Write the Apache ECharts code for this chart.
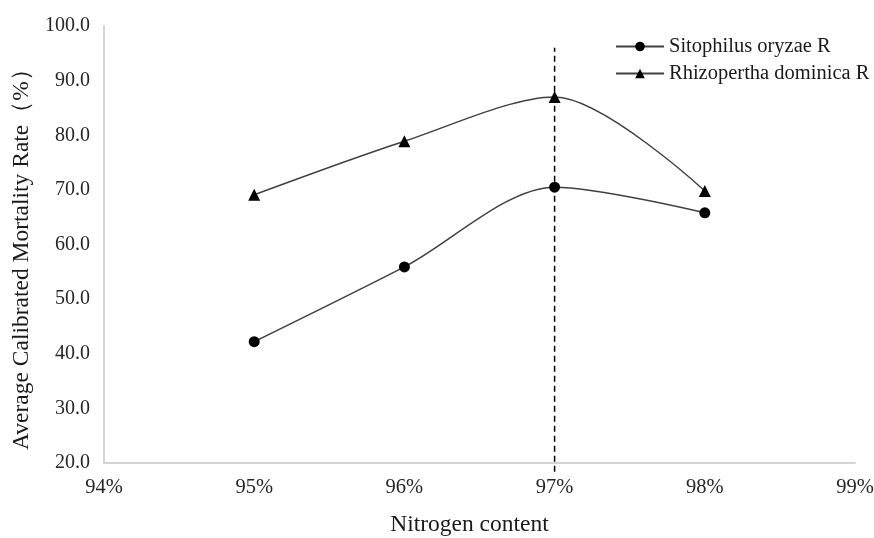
<!DOCTYPE html>
<html>
<head>
<meta charset="utf-8">
<script src="https://cdn.jsdelivr.net/npm/echarts@6/dist/echarts.min.js"></script>
<style>html,body{margin:0;padding:0;background:#fff}#c{width:874px;height:538px}</style>
</head>
<body>
<div id="c"></div>
<script>
var nitrogen = [95, 96, 97, 98];
var sitophilus = [42.2, 55.9, 70.5, 65.8];
var rhizopertha = [69.1, 78.9, 87.0, 69.8];
var dashX = 97;
var dashYRange = [18.4, 96.0];
var seriesNames = ['Sitophilus oryzae R', 'Rhizopertha dominica R'];

function pairs(xs, ys){ return xs.map(function(x,i){ return [x, ys[i]]; }); }

var font = 'Liberation Serif';
var chart = echarts.init(document.getElementById('c'), null, {renderer:'canvas'});
chart.setOption({
  animation: false,
  backgroundColor: '#fff',
  grid: {left: 104, right: 19, top: 26, bottom: 75, containLabel: false, outerBoundsMode: 'none'},
  legend: {
    orient: 'vertical', left: 610, top: 31,
    data: seriesNames,
    itemWidth: 48, itemHeight: 12, itemGap: 6,
    textStyle: {fontFamily: font, fontSize: 20.5, color: '#1a1a1a'}
  },
  xAxis: {
    type: 'value', min: 94, max: 99, interval: 1,
    name: 'Nitrogen content', nameLocation: 'middle', nameGap: 50,
    nameTextStyle: {fontFamily: font, fontSize: 23.5, color: '#1a1a1a', padding: [0, 20, 0, 0]},
    axisLine: {show: true, lineStyle: {color: '#d4d4d4', width: 2}},
    axisTick: {show: false},
    splitLine: {show: false},
    axisLabel: {fontFamily: font, fontSize: 20.5, color: '#262626', margin: 14,
      formatter: function(v){ return v + '%'; }}
  },
  yAxis: {
    type: 'value', min: 20, max: 100, interval: 10,
    name: 'Average Calibrated Mortality Rate（%）', nameLocation: 'middle', nameGap: 70,
    nameTextStyle: {fontFamily: font, fontSize: 23.5, color: '#1a1a1a', padding: [0, 18, 0, 0]},
    axisLine: {show: true, lineStyle: {color: '#d4d4d4', width: 2}},
    axisTick: {show: false},
    splitLine: {show: false},
    axisLabel: {fontFamily: font, fontSize: 20, color: '#262626', margin: 14,
      formatter: function(v){ return v.toFixed(1); }}
  },
  series: [
    {
      name: seriesNames[0], type: 'line', smooth: 0.3,
      data: pairs(nitrogen, sitophilus),
      symbol: 'circle', symbolSize: 11,
      itemStyle: {color: '#000'},
      lineStyle: {color: '#404040', width: 1.5}
    },
    {
      name: seriesNames[1], type: 'line', smooth: 0.3,
      data: pairs(nitrogen, rhizopertha),
      symbol: 'triangle', symbolSize: 12,
      itemStyle: {color: '#000'},
      lineStyle: {color: '#404040', width: 1.5}
    },
    {
      name: 'dash', type: 'line', clip: false, silent: true,
      data: dashYRange.map(function(y){ return [dashX, y]; }),
      symbol: 'none',
      lineStyle: {color: '#000', width: 1.5, type: [6, 4]}
    }
  ]
});
</script>
</body>
</html>
